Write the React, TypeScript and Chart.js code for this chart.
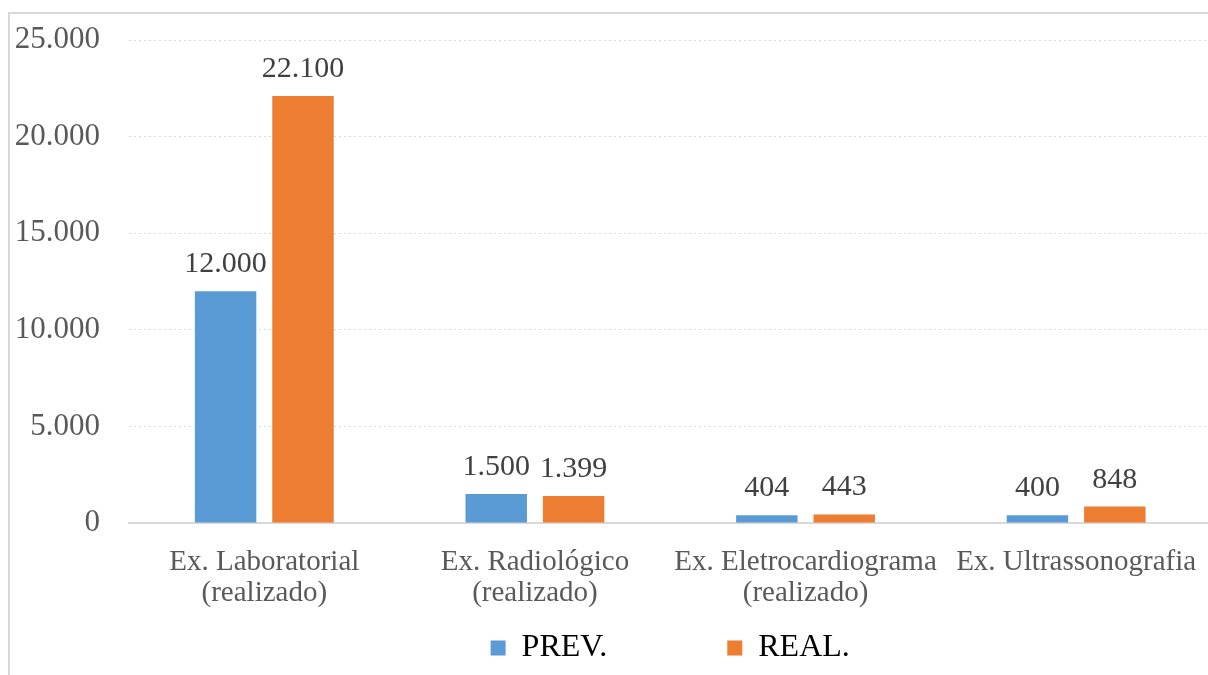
import React, { useEffect, useRef } from "react";
import { Chart, registerables } from "chart.js";

Chart.register(...registerables);

const categories: string[][] = [
  ["Ex. Laboratorial", "(realizado)"],
  ["Ex. Radiológico", "(realizado)"],
  ["Ex. Eletrocardiograma", "(realizado)"],
  ["Ex. Ultrassonografia"],
];
const seriesNames = ["PREV.", "REAL."];
const prevValues = [12000, 1500, 404, 400];
const realValues = [22100, 1399, 443, 848];
const yTicks = [0, 5000, 10000, 15000, 20000, 25000];

const seriesColors = ["#5B9BD5", "#ED7D31"];
const FONT = '"Liberation Serif", "Times New Roman", serif';
const LEGEND_SPACER = "\u00a0".repeat(12);

const fmt = (v: number) => String(v).replace(/\B(?=(\d{3})+(?!\d))/g, ".");

const valueLabels = {
  id: "valueLabels",
  afterDatasetsDraw(chart: any) {
    const ctx = chart.ctx;
    ctx.save();
    ctx.font = `30px ${FONT}`;
    ctx.fillStyle = "#404040";
    ctx.textAlign = "center";
    ctx.textBaseline = "alphabetic";
    chart.data.datasets.forEach((ds: any, i: number) => {
      chart.getDatasetMeta(i).data.forEach((bar: any, j: number) => {
        ctx.fillText(fmt(ds.data[j]), bar.x, bar.y - 19);
      });
    });
    ctx.restore();
  },
};

export default function App() {
  const ref = useRef<HTMLCanvasElement | null>(null);

  useEffect(() => {
    if (!ref.current) return;
    const chart = new Chart(ref.current, {
      type: "bar",
      data: {
        labels: categories,
        datasets: [
          {
            label: seriesNames[0],
            data: prevValues,
            backgroundColor: seriesColors[0],
            categoryPercentage: 0.572,
            barPercentage: 0.794,
          },
          {
            label: seriesNames[1],
            data: realValues,
            backgroundColor: seriesColors[1],
            categoryPercentage: 0.572,
            barPercentage: 0.794,
          },
        ],
      },
      options: {
        responsive: false,
        animation: false,
        devicePixelRatio: 1,
        layout: { padding: { top: 40, right: 7, left: 0, bottom: 1 } },
        plugins: {
          tooltip: { enabled: false },
          legend: {
            position: "bottom",
            fullSize: false,
            labels: {
              boxWidth: 15,
              boxHeight: 15,
              padding: 24,
              color: "#595959",
              font: { family: FONT, size: 32 },
              generateLabels: (c: any) =>
                c.data.datasets.map((ds: any, i: number) => ({
                  text: i === 0 ? ds.label + LEGEND_SPACER : ds.label,
                  fillStyle: ds.backgroundColor,
                  strokeStyle: ds.backgroundColor,
                  lineWidth: 0,
                  hidden: false,
                  datasetIndex: i,
                })),
            },
          },
        },
        scales: {
          x: {
            grid: { display: false, drawTicks: false },
            border: { display: true, color: "#d9d9d9", width: 2 },
            ticks: {
              color: "#595959",
              font: { family: FONT, size: 29, lineHeight: 1.1 },
              padding: 23,
              autoSkip: false,
              maxRotation: 0,
              minRotation: 0,
            },
            afterFit: (s: any) => {
              s.height = 85;
            },
          },
          y: {
            min: 0,
            max: 25000,
            grid: { color: "#dcdcdc", lineWidth: 1, drawTicks: false },
            border: { display: false, dash: [2, 3] },
            ticks: {
              color: "#595959",
              font: { family: FONT, size: 31, lineHeight: 0.6 },
              padding: 29,
              callback: (v: any) => fmt(Number(v)),
            },
            afterBuildTicks: (s: any) => {
              s.ticks = yTicks.map((v) => ({ value: v }));
            },
            afterFit: (s: any) => {
              s.width = 129;
            },
          },
        },
      },
      plugins: [valueLabels],
    });
    return () => chart.destroy();
  }, []);

  return (
    <div
      style={{
        position: "fixed",
        left: 0,
        top: 0,
        width: 1208,
        height: 675,
        background: "#fff",
        overflow: "hidden",
      }}
    >
      <canvas
        ref={ref}
        width={1220}
        height={675}
        style={{ position: "absolute", left: 0, top: 0, width: 1220, height: 675 }}
      />
      <div
        style={{
          position: "absolute",
          left: 8,
          top: 12,
          width: 1400,
          height: 800,
          borderTop: "2px solid #d9d9d9",
          borderLeft: "2px solid #d9d9d9",
          pointerEvents: "none",
        }}
      />
    </div>
  );
}
